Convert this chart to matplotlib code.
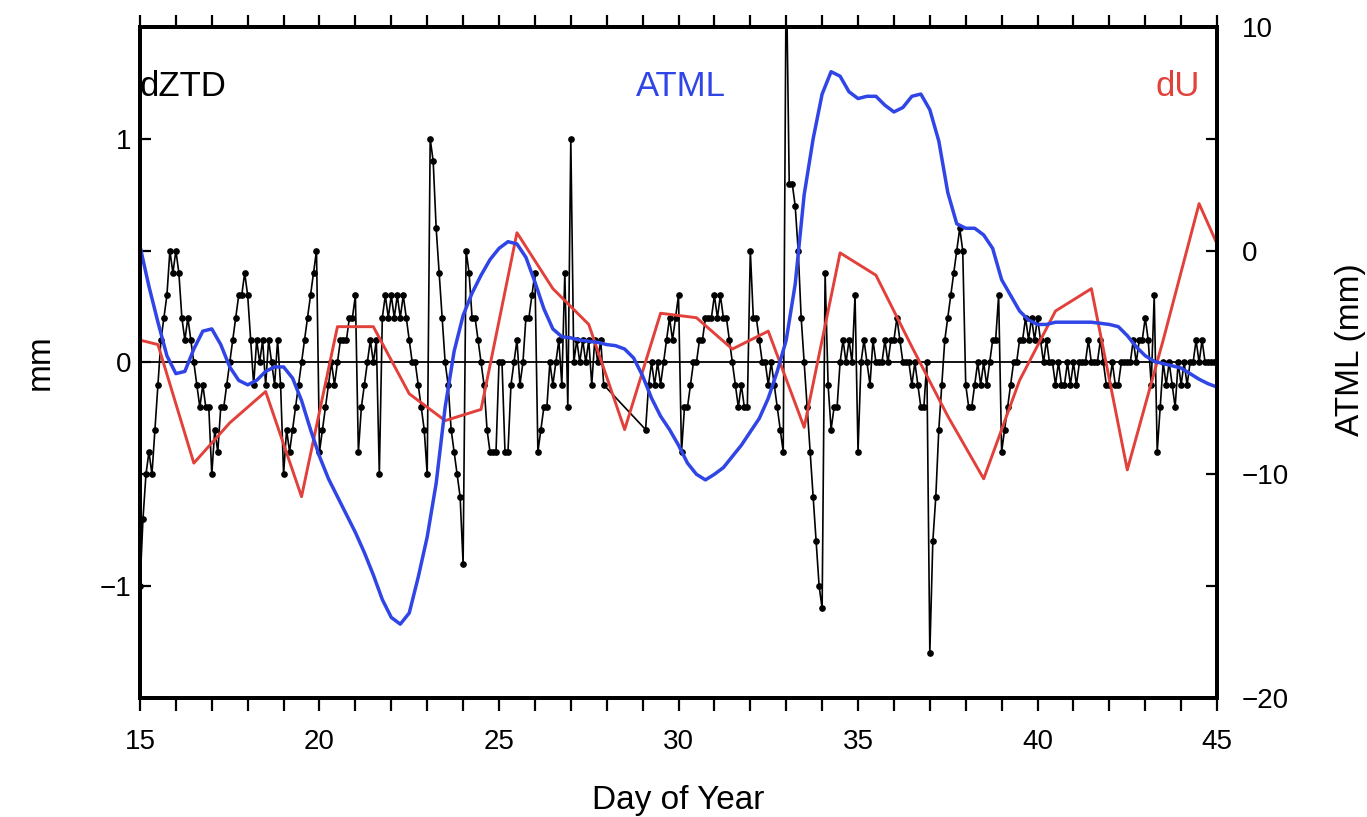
import numpy as np
import matplotlib
matplotlib.use("Agg")
import matplotlib.pyplot as plt
from matplotlib.ticker import MultipleLocator, FixedLocator

plt.rcParams["font.family"] = ["Liberation Sans", "DejaVu Sans"]

# dZTD, 2-hourly samples (12 per day), in tenths of mm; None = no data
ztd_days = [15, 16, 17, 18, 19, 20, 21, 22, 23, 24, 25, 26, 27,
            29, 30, 31, 32, 33, 34, 35, 36, 37, 38, 39, 40, 41, 42, 43, 44, 45]
ztd_tenths = [
    [-10, -7, -5, -4, -5, -3, -1, 1, 2, 3, 5, 4],
    [5, 4, 2, 1, 2, 1, 0, -1, -2, -1, -2, -2],
    [-5, -3, -4, -2, -2, -1, 0, 1, 2, 3, 3, 4],
    [3, 1, -1, 1, 0, 1, -1, 1, 0, -1, 1, -1],
    [-5, -3, -4, -3, -2, -1, 0, 1, 2, 3, 4, 5],
    [-4, -3, -2, -1, 0, -1, 0, 1, 1, 1, 2, 2],
    [3, -4, -2, -1, 0, 1, 0, 1, -5, 2, 3, 2],
    [3, 2, 3, 2, 3, 2, 1, 0, 0, -1, -2, -3],
    [-5, 10, 9, 6, 4, 2, 0, -1, -3, -4, -5, -6],
    [-9, 5, 4, 2, 2, 1, 0, -1, -3, -4, -4, -4],
    [0, 0, -4, -4, -1, 0, 1, -1, 0, 2, 2, 3],
    [4, -4, -3, -2, -2, 0, -1, 0, 1, -1, 4, -2],
    [10, 0, 1, 0, 1, 0, 1, -1, 1, 0, 1, -1],
    [None, -3, -1, 0, -1, 0, -1, 0, 1, 2, 1, 2],
    [3, -4, -2, -2, -1, 0, 0, 1, 1, 2, 2, 2],
    [3, 2, 3, 2, 2, 1, 0, -1, -2, -1, -2, -2],
    [5, 2, 2, 1, 0, 0, -1, 0, -1, -2, -3, -4],
    [18, 8, 8, 7, 5, 2, 0, -2, -4, -6, -8, -10],
    [-11, 4, -1, -3, -2, -2, 0, 1, 0, 1, 0, 3],
    [-4, 0, 1, 0, -1, 1, 0, 0, 0, 1, 0, 1],
    [1, 2, 1, 0, 0, 0, -1, 0, -1, -2, -2, 0],
    [-13, -8, -6, -3, -1, 1, 2, 3, 4, 5, 6, 5],
    [-1, -2, -2, -1, 0, -1, 0, -1, 0, 1, 1, 3],
    [-4, -3, -2, -1, 0, 0, 1, 1, 2, 1, 2, 1],
    [2, 1, 0, 1, 0, 0, -1, 0, -1, -1, 0, -1],
    [0, -1, 0, 0, 0, 1, 0, 0, 0, 1, 0, -1],
    [-1, 0, -1, -1, 0, 0, 0, 0, 1, 0, 1, 1],
    [2, 1, -1, 3, -4, -2, 0, -1, 0, -1, -2, 0],
    [-1, 0, -1, 0, 0, 1, 0, 1, 0, 0, 0, 0],
    [0],
]

# dU (mm), daily
du_days = [15.0, 15.5, 16.5, 17.5, 18.5, 19.5, 20.5, 21.5, 22.5, 23.5, 24.5,
           25.5, 26.5, 27.5, 28.5, 29.5, 30.5, 31.5, 32.5, 33.5, 34.5, 35.5,
           36.5, 37.5, 38.5, 39.5, 40.5, 41.5, 42.5, 43.5, 44.5, 45.0]
du_mm = [0.10, 0.08, -0.45, -0.27, -0.13, -0.60, 0.16, 0.16, -0.14, -0.26,
         -0.21, 0.58, 0.33, 0.17, -0.30, 0.22, 0.20, 0.06, 0.14, -0.29, 0.49,
         0.39, 0.07, -0.24, -0.52, -0.08, 0.23, 0.33, -0.48, 0.10, 0.71, 0.53]

# ATML (mm), 6-hourly from day 15.0
atml_mm = [0.2, -1.6, -3.2, -4.7, -5.5, -5.4, -4.4, -3.6, -3.5, -4.2, -5.2,
           -5.8, -6.0, -5.8, -5.4, -5.2, -5.2, -5.7, -6.7, -8.0, -9.2, -10.2,
           -11.0, -11.8, -12.6, -13.5, -14.5, -15.6, -16.4, -16.7, -16.2,
           -14.6, -12.8, -10.4, -7.0, -4.5, -2.9, -1.9, -1.1, -0.4, 0.1, 0.4,
           0.3, -0.3, -1.4, -2.6, -3.5, -3.85, -3.9, -4.0, -4.05, -4.1, -4.2,
           -4.25, -4.4, -4.8, -5.6, -6.6, -7.4, -8.0, -8.7, -9.5, -10.0,
           -10.25, -10.0, -9.7, -9.2, -8.7, -8.1, -7.5, -6.6, -5.4, -4.0,
           -1.5, 2.5, 5.0, 7.0, 8.0, 7.8, 7.1, 6.8, 6.9, 6.9, 6.5, 6.2, 6.4,
           6.9, 7.0, 6.3, 4.9, 2.6, 1.2, 1.0, 1.0, 0.7, 0.1, -1.3, -2.0, -2.7,
           -3.1, -3.3, -3.3, -3.2, -3.2, -3.2, -3.2, -3.2, -3.25, -3.3, -3.4,
           -3.8, -4.3, -4.7, -4.95, -5.05, -5.15, -5.25, -5.5, -5.75, -5.95,
           -6.1]

x_ticks = [15, 20, 25, 30, 35, 40, 45]
left_ticks = [-1, 0, 1]
right_ticks = [-20, -10, 0, 10]

BLUE = "#2f45e6"
RED = "#e2403a"

ztd_t, ztd_v = [], []
for d, row in zip(ztd_days, ztd_tenths):
    for k, v in enumerate(row):
        if v is not None:
            ztd_t.append(d + k / 12.0)
            ztd_v.append(v / 10.0)
atml_t = 15 + np.arange(len(atml_mm)) * 0.25

fig = plt.figure(figsize=(13.67, 8.17), dpi=100)
ax = fig.add_axes([0.1024, 0.1457, 0.7879, 0.8213])
ax2 = ax.twinx()

ax.axhline(0, color="black", lw=1.3, zorder=1)
ax.plot(ztd_t, ztd_v, color="black", lw=1.2, marker="o", ms=3.8,
        mec="black", mfc="black", zorder=2)
ax.plot(du_days, du_mm, color=RED, lw=2.1, zorder=3)
ax2.plot(atml_t, atml_mm, color=BLUE, lw=2.5)

ax.set_xlim(15, 45)
ax.set_ylim(-1.5, 1.5)
ax2.set_ylim(-20, 10)

ax.xaxis.set_major_locator(FixedLocator(x_ticks))
ax.xaxis.set_minor_locator(MultipleLocator(1))
ax.yaxis.set_major_locator(FixedLocator(left_ticks))
ax.yaxis.set_minor_locator(MultipleLocator(0.5))
ax2.yaxis.set_major_locator(FixedLocator(right_ticks))
ax2.yaxis.set_minor_locator(MultipleLocator(5))

for a in (ax, ax2):
    for s in a.spines.values():
        s.set_linewidth(2.8)
ax.tick_params(axis="x", which="both", direction="out", length=9, width=1.6,
               labelsize=20, pad=13, top=True, labeltop=False)
ax.tick_params(axis="y", which="both", direction="in", length=8, width=1.6,
               labelsize=20, pad=6)
ax2.tick_params(axis="y", which="both", direction="in", length=8, width=1.6,
                labelsize=20, pad=18)

fig.text(678 / 1367, 1 - 800 / 817, "Day of Year", fontsize=24,
         ha="center", va="center")
fig.text(40 / 1367, 1 - 362 / 817, "mm", fontsize=24, rotation=90,
         ha="center", va="center")
fig.text(1350 / 1367, 1 - 350 / 817, "ATML (mm)", fontsize=24, rotation=90,
         ha="center", va="center")

ax.text(0.0, 0.912, "dZTD", transform=ax.transAxes, fontsize=25,
        color="black", ha="left", va="center")
ax.text(0.502, 0.912, "ATML", transform=ax.transAxes, fontsize=25,
        color=BLUE, ha="center", va="center")
ax.text(0.984, 0.912, "dU", transform=ax.transAxes, fontsize=25,
        color=RED, ha="right", va="center")

fig.savefig("out.png", dpi=100)
